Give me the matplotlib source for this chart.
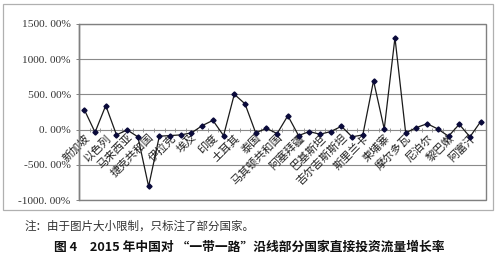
import numpy as np
import matplotlib
matplotlib.use("Agg")
import matplotlib.pyplot as plt
from matplotlib.patches import Rectangle

plt.rcParams['font.family'] = ['Noto Sans CJK SC', 'DejaVu Sans']

# growth rate (%) of 38 countries, in order
values = [282, -38, 342, -75, -5, -103, -807, -94, -85, -75, -47, 56, 131, -85,
          502, 366, -47, 18, -56, 197, -85, -28, -66, -28, 47, -103, -75, 694,
          9, 1306, -47, 28, 84, 9, -94, 75, -103, 113]
# only some categories carry a name (every other one)
label_names = ['新加坡', '以色列', '马来西亚', '捷克共和国', '伊拉克', '埃及', '印度',
               '土耳其', '泰国', '马其顿共和国', '阿塞拜疆', '巴基斯坦', '吉尔吉斯斯坦',
               '斯里兰卡', '柬埔寨', '摩尔多瓦', '尼泊尔', '黎巴嫩', '阿富汗']
yticks = [-1000, -500, 0, 500, 1000, 1500]

n = len(values)
x = np.arange(n)

fig = plt.figure(figsize=(4.98, 2.66), dpi=100)
fig.patch.set_facecolor('white')

# outer chart frame
fig.patches.append(Rectangle((0.006, 0.2105), 0.984, 0.7744, transform=fig.transFigure,
                             fill=False, edgecolor='#b0b0b0', linewidth=0.9))

ax = fig.add_axes([0.1586, 0.2481, 0.8173, 0.6617])
ax.set_xlim(-0.5, n - 0.5)
ax.set_ylim(-1000, 1500)

for v in yticks:
    if v != 0:
        ax.axhline(v, color='#8a8a8a', linewidth=0.8, zorder=1)

ax.plot(x, values, color='#1a1a1a', linewidth=0.9, marker='D', markersize=2.6,
        markerfacecolor='#0a0a3a', markeredgecolor='#0a0a3a', zorder=3)

# spines
for s in ['top', 'right']:
    ax.spines[s].set_visible(False)
ax.spines['left'].set_color('#707070')
ax.spines['left'].set_linewidth(1.0)
ax.spines['bottom'].set_position(('data', 0))
ax.spines['bottom'].set_color('#8a8a8a')
ax.spines['bottom'].set_linewidth(0.8)
ax.add_patch(Rectangle((0, 0), 1, 1, transform=ax.transAxes, fill=False,
                       edgecolor='#808080', linewidth=1.0, zorder=4, clip_on=False))

# y axis
ax.set_yticks(yticks)
ax.set_yticklabels([f"{v:.2f}".replace('.', '. ') + '%' for v in yticks],
                   fontsize=8.2, color='#333333', family=['Liberation Serif'])
ax.tick_params(axis='y', length=2, width=0.6, color='#707070', pad=4)

# x axis: labels at every other category, ticks at boundaries
ax.set_xticks(x[::2])
ax.set_xticklabels(label_names, rotation=45, ha='right', va='top',
                   rotation_mode='anchor', fontsize=8, color='#222222')
ax.tick_params(axis='x', which='major', length=0, pad=2)
ax.set_xticks(np.arange(n + 1) - 0.5, minor=True)
ax.tick_params(axis='x', which='minor', length=3, width=0.6, color='#8a8a8a',
               direction='inout')

fig.text(0.05, 0.15, '注：由于图片大小限制，只标注了部分国家。', fontsize=8.3,
         color='#333333', va='center', ha='left')
fig.text(0.5, 0.071, '图 4　2015 年中国对 “一带一路”沿线部分国家直接投资流量增长率',
         fontsize=9.2, color='#111111', va='center', ha='center', fontweight='bold')

fig.savefig('out.png', dpi=100)
